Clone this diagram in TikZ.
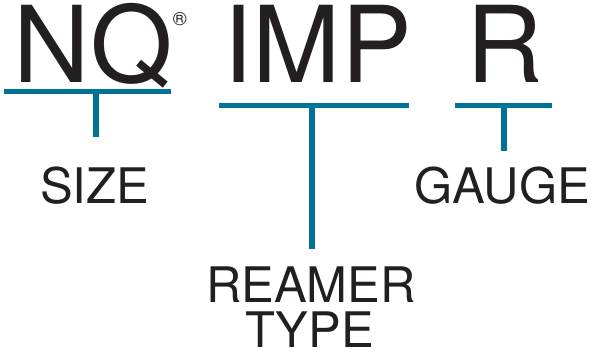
\documentclass[tikz,border=0pt]{standalone}
\usepackage{fontspec}
\setmainfont{TeX Gyre Heros}
\definecolor{barblue}{RGB}{0,114,148}
\definecolor{ink}{RGB}{35,31,32}

\begin{document}
\begin{tikzpicture}
        [%%%%%%%%%%%%%%%%%%%%%%%%%%%%%%
        x=1pt,y=-1pt,
        code/.style={font=\fontsize{106}{106}\selectfont,text=ink,inner sep=0pt,anchor=base},
        part/.style={font=\fontsize{49}{49}\selectfont,text=ink,inner sep=0pt,anchor=base},
        bar/.style={draw=barblue,line width=5.5pt},
        ]%%%%%%%%%%%%%%%%%%%%%%%%%%%%%%
        \useasboundingbox (0,0) rectangle (591,354);

        % the code letters
        \node[code] (nq) at (93,82) {NQ};
        \node[inner sep=0pt,text=ink,font=\fontsize{19}{19}\selectfont,anchor=west] (reg) at (nq.east |- 0,19) {®};
        \node[code] (imp) at (317.5,82) {IMP};
        \node[code] (r) at (505,82) {R};

        % what they mean
        \node[part] (size) at (94.5,203) {SIZE};
        \node[part] (gauge) at (502.5,203) {GAUGE};
        \node[part] (reamer) at (311,302) {REAMER};
        \node[part] (type) at (309.5,347) {TYPE};

        % bars and stems
        \coordinate (nqA) at (4,91.5);   \coordinate (nqB) at (171,91.5);   \coordinate (nqS) at (96,137);
        \coordinate (impA) at (219,105.5); \coordinate (impB) at (409,105.5); \coordinate (impS) at (312,249);
        \coordinate (rA) at (455,105.5);   \coordinate (rB) at (552,105.5);   \coordinate (rS) at (504,151);

        \draw[bar] (nqA) -- (nqB);
        \draw[bar] (nqS |- nqA) -- (nqS);
        \draw[bar] (impA) -- (impB);
        \draw[bar] (impS |- impA) -- (impS);
        \draw[bar] (rA) -- (rB);
        \draw[bar] (rS |- rA) -- (rS);
      \end{tikzpicture}
\end{document}
